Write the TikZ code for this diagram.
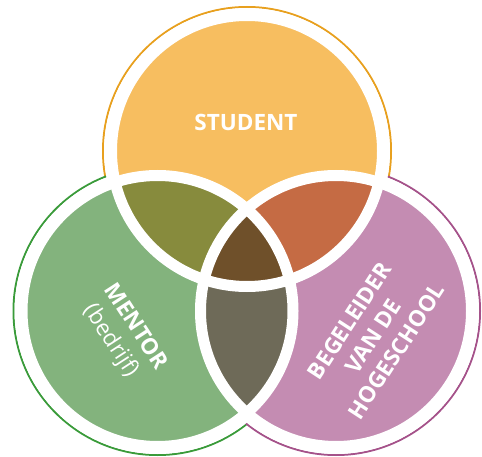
\documentclass[tikz,border=0pt]{standalone}
\usepackage{fontspec}
\setmainfont{Open Sans}
\definecolor{stufill}{HTML}{F7BE60}
\definecolor{stuline}{HTML}{E8A01E}
\definecolor{menfill}{HTML}{83B37D}
\definecolor{menline}{HTML}{3A9B3A}
\definecolor{begfill}{HTML}{C48CB2}
\definecolor{begline}{HTML}{A5528A}
\definecolor{smcol}{HTML}{878B3D}
\definecolor{sbcol}{HTML}{C56B44}
\definecolor{mbcol}{HTML}{6E6A58}
\definecolor{allcol}{HTML}{6F502A}
\tikzset{
  outring/.style={line width=2pt},
  band/.style={draw=white, line width=11pt},
  lbl/.style={text=white, font=\fontsize{22.5}{28}\selectfont\bfseries, inner sep=0pt, align=center},
  sublbl/.style={text=white, font=\fontsize{22.5}{28}\selectfont, inner sep=0pt}
}
\begin{document}
\begin{tikzpicture}[x=1pt,y=-1pt]
\useasboundingbox (0,0) rectangle (482,457);
\coordinate (T) at (247,151);
\coordinate (L) at (157.5,311);
\coordinate (R) at (336,311);
\def\rb{135.5pt}
\def\ro{144pt}
\def\rw{143pt}
% outer rings
\draw[outring, stuline] (T) circle (\ro);
\draw[outring, menline] (L) circle (\ro);
\draw[outring, begline] (R) circle (\ro);
\fill[white] (T) circle (\rw);
\fill[white] (L) circle (\rw);
\fill[white] (R) circle (\rw);
% discs
\fill[stufill] (T) circle (\rb);
\fill[menfill] (L) circle (\rb);
\fill[begfill] (R) circle (\rb);
% pairwise overlaps
\begin{scope}
  \clip (T) circle (\rb);
  \fill[smcol] (L) circle (\rb);
  \fill[sbcol] (R) circle (\rb);
\end{scope}
\begin{scope}
  \clip (L) circle (\rb);
  \fill[mbcol] (R) circle (\rb);
\end{scope}
\begin{scope}
  \clip (T) circle (\rb);
  \clip (L) circle (\rb);
  \fill[allcol] (R) circle (\rb);
\end{scope}
% white separating bands
\draw[band] (T) circle (\rb);
\draw[band] (L) circle (\rb);
\draw[band] (R) circle (\rb);
% labels
\node[lbl] (student) at (246,122) {STUDENT};
\node[lbl, rotate=-57] (mentor) at (137,326) {MENTOR};
\node[sublbl, rotate=-57] (bedrijf) at (111,341) {(bedrijf)};
\node[lbl, rotate=57] (begeleider) at (373,336) {BEGELEIDER\\VAN DE\\HOGESCHOOL};
\end{tikzpicture}
\end{document}
